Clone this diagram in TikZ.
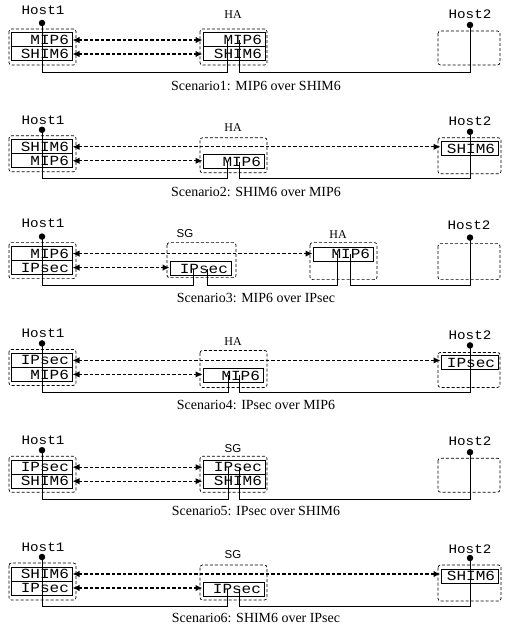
\documentclass[tikz,border=0pt]{standalone}
\usepackage{fontspec}
\usepackage{graphicx}
\setmainfont{Liberation Serif}
\newfontfamily\monof{Liberation Mono}
\newfontfamily\sansf{Liberation Sans}
\usetikzlibrary{arrows.meta}
\newcommand{\lt}[1]{\scalebox{1.15}[1]{#1}}
\newcommand{\hlt}[1]{\scalebox{1.1}[1]{#1}}
\begin{document}
\begin{tikzpicture}[x=1bp,y=-1bp,
  hostbox/.style={draw, dash pattern=on 3bp off 2bp, line width=0.7bp, rounded corners=2.5bp},
  laybox/.style={draw, line width=1bp, minimum height=14bp, inner xsep=3bp, inner ysep=0pt, align=right, font=\monof\fontsize{14}{14}\selectfont},
  hostlbl/.style={font=\monof\fontsize{13}{13}\selectfont},
  halbl/.style={font=\fontsize{12}{13}\selectfont},
  sglbl/.style={font=\sansf\fontsize{11.5}{12}\selectfont},
  captxt/.style={font=\fontsize{14}{16}\selectfont},
  peer/.style={dash pattern=on 3.5bp off 2bp, line width=1.3bp, {Latex[length=7bp,width=6.5bp]}-{Latex[length=7bp,width=6.5bp]}},
  wireline/.style={line width=0.8bp},
  hdot/.style={circle, fill, inner sep=0pt, minimum size=6.5bp}]
\useasboundingbox (0,0) rectangle (507,637);

% ---------- Scenario 1
\begin{scope}[shift={(0,0)}]
\node[hostlbl] (s1h1l) at (43,10) {\hlt{Host1}};
\node[hdot] (s1d1) at (42,23) {};
\draw[hostbox] (9,29) rectangle (76,65);
\node[laybox, text width=54bp] (s1a) at (42,40) {\lt{MIP6}};
\node[laybox, text width=54bp] (s1b) at (42,54) {\lt{SHIM6}};
\node[halbl] (s1ml) at (233,15) {HA};
\draw[hostbox] (200,29) rectangle (267,65);
\node[laybox, text width=56bp] (s1ma) at (234,40) {\lt{MIP6}};
\node[laybox, text width=56bp] (s1mb) at (234,54) {\lt{SHIM6}};
\node[hostlbl] (s1h2l) at (470,14) {\hlt{Host2}};
\node[hdot] (s1d2) at (470,25) {};
\draw[hostbox] (438,31) rectangle (500,65);
\coordinate (s1in) at (227,40);
\coordinate (s1out) at (239,40);
\draw[peer] (s1a.east) -- (s1ma.west);
\draw[peer] (s1b.east) -- (s1mb.west);
\draw[wireline] (s1d1.center) -- ++(0,49) -| (s1in);
\draw[wireline] (s1out) -- ++(0,32) -| (s1d2.center);
\node[captxt] (s1c) at (256,86) {Scenario1: MIP6 over SHIM6};
\end{scope}

% ---------- Scenario 2
\begin{scope}[shift={(0,106.8)}]
\node[hostlbl] (s2h1l) at (43,13) {\hlt{Host1}};
\node[hdot] (s2d1) at (42,23) {};
\draw[hostbox] (9,29) rectangle (76,65);
\node[laybox, text width=54bp] (s2a) at (42,40) {\lt{SHIM6}};
\node[laybox, text width=54bp] (s2b) at (42,54) {\lt{MIP6}};
\node[halbl] (s2ml) at (233,21) {HA};
\draw[hostbox] (200,31) rectangle (267,66);
\node[laybox, text width=55bp] (s2m) at (233.5,55) {\lt{MIP6}};
\node[hostlbl] (s2h2l) at (470,14) {\hlt{Host2}};
\node[hdot] (s2d2) at (470,25) {};
\draw[hostbox] (438,31) rectangle (501,67);
\node[laybox, text width=51bp] (s2t) at (469.5,42) {\lt{SHIM6}};
\coordinate (s2in) at (227,55);
\coordinate (s2out) at (239,55);
\draw[peer] (s2a.east) -- (s2a.east -| s2t.west);
\draw[peer] (s2b.east) -- (s2b.east -| s2m.west);
\draw[wireline] (s2d1.center) -- ++(0,49) -| (s2in);
\draw[wireline] (s2out) -- ++(0,17) -| (s2d2.center);
\node[captxt] (s2c) at (256,85) {Scenario2: SHIM6 over MIP6};
\end{scope}

% ---------- Scenario 3
\begin{scope}[shift={(0,213.6)}]
\node[hostlbl] (s3h1l) at (43,10) {\hlt{Host1}};
\node[hdot] (s3d1) at (42,23) {};
\draw[hostbox] (9,29) rectangle (76,65);
\node[laybox, text width=54bp] (s3a) at (42,40) {\lt{MIP6}};
\node[laybox, text width=54bp] (s3b) at (42,54) {\lt{IPsec}};
\node[sglbl] (s3gl) at (185,20) {SG};
\draw[hostbox] (167,29) rectangle (236,64);
\node[laybox, text width=55bp] (s3g) at (200.5,55) {\lt{IPsec}};
\node[halbl] (s3hl) at (338,21) {HA};
\draw[hostbox] (310,29) rectangle (377,66);
\node[laybox, text width=54bp] (s3h) at (343,40.5) {\lt{MIP6}};
\node[hostlbl] (s3h2l) at (469,12) {\hlt{Host2}};
\node[hdot] (s3d2) at (470,24) {};
\draw[hostbox] (438,30) rectangle (500,66);
\coordinate (s3in1) at (193,55);
\coordinate (s3out1) at (207,55);
\coordinate (s3in2) at (337,40.5);
\coordinate (s3out2) at (350,40.5);
\draw[peer] (s3a.east) -- (s3a.east -| s3h.west);
\draw[peer] (s3b.east) -- (s3b.east -| s3g.west);
\draw[wireline] (s3d1.center) -- ++(0,49) -| (s3in1);
\draw[wireline] (s3out1) -- ++(0,17) -| (s3in2);
\draw[wireline] (s3out2) -- ++(0,31.5) -| (s3d2.center);
\node[captxt] (s3c) at (256,84.5) {Scenario3: MIP6 over IPsec};
\end{scope}

% ---------- Scenario 4
\begin{scope}[shift={(0,320.4)}]
\node[hostlbl] (s4h1l) at (43,13) {\hlt{Host1}};
\node[hdot] (s4d1) at (42,23) {};
\draw[hostbox] (9,29) rectangle (76,65);
\node[laybox, text width=54bp] (s4a) at (42,40) {\lt{IPsec}};
\node[laybox, text width=54bp] (s4b) at (42,54) {\lt{MIP6}};
\node[halbl] (s4ml) at (233,21) {HA};
\draw[hostbox] (200,30) rectangle (267,67);
\node[laybox, text width=54bp] (s4m) at (233,55) {\lt{MIP6}};
\node[hostlbl] (s4h2l) at (470,15) {\hlt{Host2}};
\node[hdot] (s4d2) at (470,25) {};
\draw[hostbox] (438,32) rectangle (500,67);
\node[laybox, text width=51bp] (s4t) at (469.5,42.5) {\lt{IPsec}};
\coordinate (s4in) at (228,55);
\coordinate (s4out) at (239,55);
\draw[peer] (s4a.east) -- (s4a.east -| s4t.west);
\draw[peer] (s4b.east) -- (s4b.east -| s4m.west);
\draw[wireline] (s4d1.center) -- ++(0,49) -| (s4in);
\draw[wireline] (s4out) -- ++(0,17) -| (s4d2.center);
\node[captxt] (s4c) at (256,85) {Scenario4: IPsec over MIP6};
\end{scope}

% ---------- Scenario 5
\begin{scope}[shift={(0,427.2)}]
\node[hostlbl] (s5h1l) at (43,13) {\hlt{Host1}};
\node[hdot] (s5d1) at (42,23) {};
\draw[hostbox] (9,29) rectangle (76,65);
\node[laybox, text width=54bp] (s5a) at (42,40) {\lt{IPsec}};
\node[laybox, text width=54bp] (s5b) at (42,54) {\lt{SHIM6}};
\node[sglbl] (s5ml) at (233,21) {SG};
\draw[hostbox] (200,29) rectangle (267,65);
\node[laybox, text width=56bp] (s5ma) at (234,40) {\lt{IPsec}};
\node[laybox, text width=56bp] (s5mb) at (234,54) {\lt{SHIM6}};
\node[hostlbl] (s5h2l) at (470,14) {\hlt{Host2}};
\node[hdot] (s5d2) at (470,25) {};
\draw[hostbox] (438,31) rectangle (500,65);
\coordinate (s5in) at (228,40);
\coordinate (s5out) at (239,40);
\draw[peer] (s5a.east) -- (s5ma.west);
\draw[peer] (s5b.east) -- (s5mb.west);
\draw[wireline] (s5d1.center) -- ++(0,49) -| (s5in);
\draw[wireline] (s5out) -- ++(0,32) -| (s5d2.center);
\node[captxt] (s5c) at (256,84) {Scenario5: IPsec over SHIM6};
\end{scope}

% ---------- Scenario 6
\begin{scope}[shift={(0,534)}]
\node[hostlbl] (s6h1l) at (43,13) {\hlt{Host1}};
\node[hdot] (s6d1) at (42,23) {};
\draw[hostbox] (9,29) rectangle (76,66);
\node[laybox, text width=54bp] (s6a) at (42,40) {\lt{SHIM6}};
\node[laybox, text width=54bp] (s6b) at (42,54) {\lt{IPsec}};
\node[sglbl] (s6ml) at (233,21) {SG};
\draw[hostbox] (200,31) rectangle (267,66);
\node[laybox, text width=55bp] (s6m) at (233.5,55) {\lt{IPsec}};
\node[hostlbl] (s6h2l) at (470,15) {\hlt{Host2}};
\node[hdot] (s6d2) at (470,24) {};
\draw[hostbox] (438,31) rectangle (501,67);
\node[laybox, text width=51bp] (s6t) at (469.5,42) {\lt{SHIM6}};
\coordinate (s6in) at (227,55);
\coordinate (s6out) at (239,55);
\draw[peer] (s6a.east) -- (s6a.east -| s6t.west);
\draw[peer] (s6b.east) -- (s6b.east -| s6m.west);
\draw[wireline] (s6d1.center) -- ++(0,49) -| (s6in);
\draw[wireline] (s6out) -- ++(0,17) -| (s6d2.center);
\node[captxt] (s6c) at (256,84) {Scenario6: SHIM6 over IPsec};
\end{scope}
\end{tikzpicture}
\end{document}
